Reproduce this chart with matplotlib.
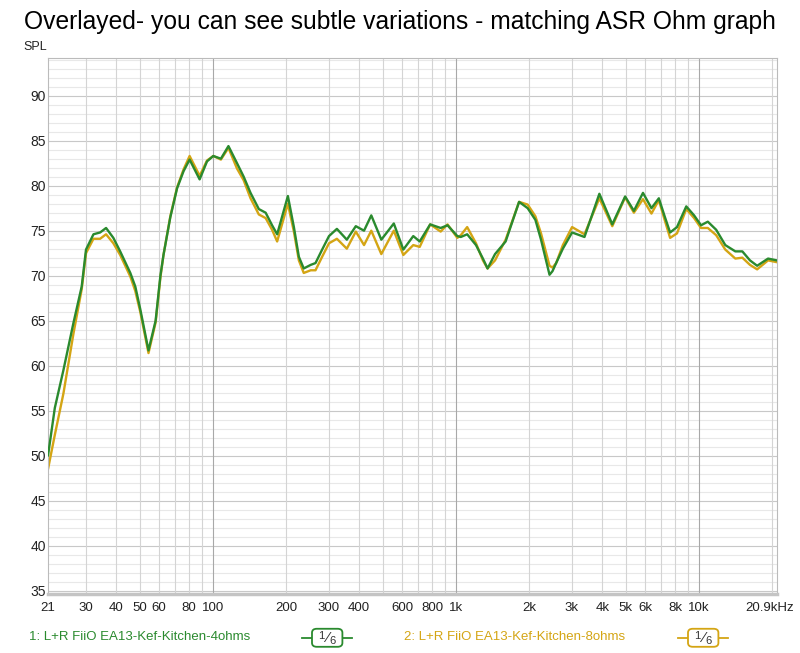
import matplotlib
matplotlib.use("Agg")
import matplotlib.pyplot as plt
from matplotlib.patches import FancyBboxPatch
from matplotlib.ticker import FixedLocator, NullFormatter
from matplotlib.transforms import ScaledTranslation

plt.rcParams["font.family"] = ["Liberation Sans", "DejaVu Sans"]

TITLE = "Overlayed- you can see subtle variations - matching ASR Ohm graph"
LABEL_4 = "1: L+R FiiO EA13-Kef-Kitchen-4ohms"
LABEL_8 = "2: L+R FiiO EA13-Kef-Kitchen-8ohms"

# frequency (Hz) and SPL (dB) of both traces
freq_hz = [21, 22.4, 24.3, 26.7, 28.9, 30.1, 32.3, 34.4, 36.4, 39.0, 41.6, 45.8, 48, 50.3,
           54.4, 58.2, 60.9, 62.7, 66.9, 71.3, 75.8, 80.3, 88.3, 94.7, 100.5, 108, 116,
           125.8, 134, 143, 154.7, 165, 175.4, 184, 203.7, 215.6, 226, 236.7, 252.9, 264.6,
           281.8, 300.7, 324, 356, 387.6, 419, 448.8, 493.5, 555.5, 608, 668, 710, 784, 866,
           924, 1014, 1048, 1113, 1210, 1292, 1350, 1449, 1602, 1820, 1974, 2124, 2240, 2428,
           2497, 2585, 2755, 3006, 3381, 3893, 4400, 4969, 5399, 5884, 6376, 6838, 7224,
           7608, 8121, 8866, 9549, 10195, 10874, 11771, 12830, 14110, 15080, 16210, 17350,
           19240, 20900]
spl_4ohm = [50.0, 55.3, 59.5, 64.7, 68.8, 72.9, 74.6, 74.8, 75.3, 74.2, 72.7, 70.3, 68.8, 66.3,
            61.7, 65.0, 70.0, 72.3, 76.5, 79.7, 81.6, 82.9, 80.7, 82.7, 83.3, 83.0, 84.4,
            82.5, 81.0, 79.2, 77.4, 77.0, 75.6, 74.6, 78.85, 75.4, 72.1, 70.8, 71.2, 71.4,
            72.9, 74.4, 75.2, 74.0, 75.5, 75.0, 76.7, 74.0, 75.8, 72.9, 74.4, 73.8, 75.7, 75.3,
            75.6, 74.4, 74.3, 74.6, 73.4, 71.9, 70.8, 72.4, 73.8, 78.2, 77.5, 76.2, 74.0, 70.1,
            70.5, 71.4, 73.0, 74.8, 74.3, 79.1, 75.7, 78.8, 77.2, 79.2, 77.5, 78.6, 76.6,
            74.8, 75.4, 77.7, 76.7, 75.6, 76.0, 75.1, 73.4, 72.7, 72.7, 71.7, 71.1,
            71.9, 71.7]
spl_8ohm = [48.5, 52.3, 56.9, 63.5, 68.5, 72.5, 74.1, 74.1, 74.6, 73.6, 72.3, 69.9, 68.3, 66.0,
            61.4, 64.8, 69.8, 72.3, 76.6, 79.8, 81.8, 83.3, 81.1, 82.8, 83.3, 82.9, 84.2,
            81.9, 80.6, 78.6, 76.8, 76.4, 75.1, 73.8, 78.0, 74.9, 71.7, 70.3, 70.6, 70.6,
            72.1, 73.6, 74.1, 73.0, 74.9, 73.4, 75.0, 72.4, 75.0, 72.3, 73.4, 73.2, 75.7, 74.9,
            75.7, 74.2, 74.5, 75.4, 73.6, 71.7, 70.8, 71.7, 74.0, 78.2, 77.9, 76.6, 74.7, 71.1,
            70.9, 71.4, 73.4, 75.4, 74.6, 78.6, 75.5, 78.7, 77.0, 78.5, 76.9, 78.4, 76.2,
            74.2, 74.7, 77.4, 76.4, 75.3, 75.3, 74.5, 72.9, 71.9, 72.0, 71.2, 70.7,
            71.7, 71.5]

x_ticks = [21, 30, 40, 50, 60, 80, 100, 200, 300, 400, 600, 800, 1000,
           2000, 3000, 4000, 5000, 6000, 8000, 10000, 20900]
x_tick_labels = ["21", "30", "40", "50", "60", "80", "100", "200", "300", "400", "600",
                 "800", "1k", "2k", "3k", "4k", "5k", "6k", "8k", "10k", "20.9kHz"]
y_ticks = [35, 40, 45, 50, 55, 60, 65, 70, 75, 80, 85, 90]

GREEN = "#2a8a2e"
GOLD = "#d4a514"


def main():
    fig = plt.figure(figsize=(8.0, 6.53), dpi=100)
    ax = fig.add_axes([0.06, 0.0904, 0.911, 0.8208])

    ax.set_xscale("log")
    ax.set_xlim(21, 20900)
    ax.set_ylim(34.63, 94.19)

    # grid: 1 dB minor, 5 dB major; vertical lines at 1-9 of each decade, decades darker
    for db in range(35, 95):
        ax.axhline(db, color="#c8c8c8" if db % 5 == 0 else "#e8e8e8", lw=0.8, zorder=0)
    verticals = [m * 10 ** e for e in range(1, 5) for m in range(1, 10)]
    for f in verticals:
        if 21 < f < 20900:
            dec = f in (100, 1000, 10000)
            ax.axvline(f, color="#a8a8a8" if dec else "#d4d4d4", lw=0.8, zorder=0)

    ax.plot(freq_hz, spl_4ohm, color=GREEN, lw=1.7, zorder=3,
            solid_joinstyle="round", solid_capstyle="round")
    ax.plot(freq_hz, spl_8ohm, color=GOLD, lw=1.7, zorder=2,
            solid_joinstyle="round", solid_capstyle="round")

    ax.xaxis.set_major_locator(FixedLocator(x_ticks))
    ax.set_xticklabels(x_tick_labels)
    ax.xaxis.set_minor_formatter(NullFormatter())
    ax.set_yticks(y_ticks)
    ax.tick_params(axis="both", which="both", length=0, colors="#222222")
    ax.tick_params(axis="x", pad=6, labelsize=9.5)
    ax.tick_params(axis="y", pad=1.5, labelsize=10)
    last = ax.get_xticklabels()[-1]
    last.set_transform(last.get_transform() + ScaledTranslation(-5 / 72, 0, fig.dpi_scale_trans))

    for side in ("top", "left", "right"):
        ax.spines[side].set_color("#bbbbbb")
        ax.spines[side].set_linewidth(0.8)
    ax.spines["bottom"].set_color("#c4c4c4")
    ax.spines["bottom"].set_linewidth(2.5)

    fig.text(0.03, 0.9556, TITLE, fontsize=17.75, ha="left", va="baseline", color="black")
    fig.text(0.029, 0.928, "SPL", fontsize=9, ha="left", va="center", color="#222222")

    # legend row
    for label, color, tx, bx in ((LABEL_4, GREEN, 0.036, 0.39), (LABEL_8, GOLD, 0.505, 0.86)):
        fig.text(tx, 0.0245, label, fontsize=9.5, color=color, ha="left", va="center")
        y0 = 0.0095
        fig.add_artist(plt.Line2D([bx - 0.012, bx + 0.05], [y0 + 0.0138, y0 + 0.0138],
                                  color=color, lw=1.3, transform=fig.transFigure))
        box = FancyBboxPatch((bx, y0), 0.038, 0.0276,
                             boxstyle="round,pad=0,rounding_size=0.006",
                             transform=fig.transFigure, facecolor="white",
                             edgecolor=color, lw=1.3, zorder=4)
        fig.add_artist(box)
        fig.text(bx + 0.012, y0 + 0.017, "1", fontsize=8, ha="center", va="center", color="#333333", zorder=5)
        fig.text(bx + 0.019, y0 + 0.0135, "\u2044", fontsize=11, ha="center", va="center", color="#333333", zorder=5)
        fig.text(bx + 0.026, y0 + 0.009, "6", fontsize=8, ha="center", va="center", color="#333333", zorder=5)

    fig.savefig("out.png", dpi=100, facecolor="white")
    plt.close(fig)


if __name__ == "__main__":
    main()
